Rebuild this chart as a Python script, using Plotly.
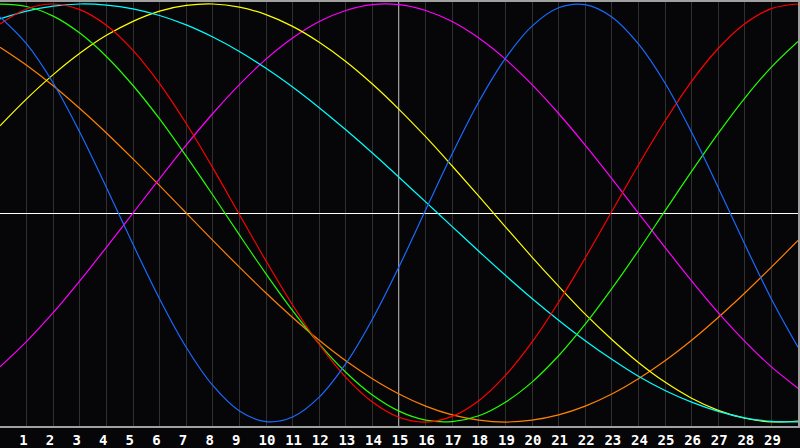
import plotly.graph_objects as go

# days shown along the bottom, curve values at each day (0..30)
days = list(range(0, 31))
day_labels = [str(d) for d in range(1, 30)]

physical = [0.938, 0.809, 0.622, 0.386, 0.122, -0.150, -0.411, -0.642, -0.825, -0.947,
            -0.998, -0.976, -0.881, -0.721, -0.508, -0.257, 0.014, 0.283, 0.532, 0.740,
            0.894, 0.982, 0.997, 0.938, 0.809, 0.622, 0.386, 0.122, -0.150, -0.411, -0.642]
emotional = [0.904, 0.976, 1.000, 0.973, 0.898, 0.778, 0.619, 0.428, 0.216, -0.007,
             -0.229, -0.440, -0.629, -0.786, -0.904, -0.977, -1.000, -0.973, -0.898, -0.777,
             -0.618, -0.427, -0.215, 0.007, 0.230, 0.440, 0.630, 0.787, 0.905, 0.978, 1.000]
intellectual = [0.999, 0.988, 0.942, 0.861, 0.749, 0.610, 0.450, 0.272, 0.086, -0.105,
                -0.291, -0.467, -0.626, -0.762, -0.871, -0.948, -0.991, -0.998, -0.970, -0.905,
                -0.809, -0.683, -0.532, -0.362, -0.180, 0.010, 0.199, 0.381, 0.550, 0.698, 0.821]
spiritual = [0.929, 0.966, 0.990, 1.000, 0.995, 0.977, 0.945, 0.900, 0.842, 0.773,
             0.692, 0.603, 0.504, 0.398, 0.287, 0.171, 0.053, -0.065, -0.183, -0.298,
             -0.409, -0.513, -0.611, -0.700, -0.781, -0.849, -0.905, -0.949, -0.980, -0.997, -0.999]
aesthetic = [0.417, 0.546, 0.662, 0.764, 0.850, 0.917, 0.966, 0.993, 1.000, 0.985,
             0.949, 0.893, 0.817, 0.725, 0.617, 0.496, 0.365, 0.225, 0.081, -0.066,
             -0.211, -0.350, -0.484, -0.605, -0.715, -0.809, -0.886, -0.944, -0.982, -0.999, -0.995]
intuitive = [-0.736, -0.614, -0.477, -0.325, -0.164, 0.000, 0.165, 0.325, 0.476, 0.614,
             0.736, 0.837, 0.916, 0.969, 0.997, 0.997, 0.969, 0.916, 0.837, 0.736,
             0.614, 0.476, 0.325, 0.165, 0.000, -0.164, -0.325, -0.477, -0.614, -0.736, -0.838]
awareness = [0.793, 0.707, 0.609, 0.500, 0.383, 0.259, 0.131, 0.000, -0.131, -0.259,
             -0.383, -0.500, -0.609, -0.707, -0.793, -0.866, -0.924, -0.966, -0.991, -1.000,
             -0.991, -0.966, -0.924, -0.866, -0.793, -0.707, -0.609, -0.500, -0.383, -0.259, -0.131]

series = [
    (awareness, "#ff8000"),
    (intuitive, "#ff00ff"),
    (aesthetic, "#ffff00"),
    (spiritual, "#00ffff"),
    (intellectual, "#22ff00"),
    (emotional, "#ff0000"),
    (physical, "#1a6aff"),
]

bg = "#060609"

fig = go.Figure()
for values, colour in series:
    fig.add_trace(go.Scatter(x=days, y=values, mode="lines",
                             line=dict(color=colour, width=1.2, shape="spline"),
                             hoverinfo="skip", showlegend=False))

# white marker line at day 15
fig.add_shape(type="line", x0=15, x1=15, y0=0, y1=1, yref="paper",
              line=dict(color="white", width=1.2), layer="below")

# single digit labels get a trailing space so they sit a bit left like the original
ticktext = [t + "\u00a0" if len(t) == 1 else t for t in day_labels]

fig.update_layout(
    width=800, height=448,
    margin=dict(l=0, r=0, t=0, b=20),
    paper_bgcolor=bg, plot_bgcolor=bg,
    showlegend=False,
    xaxis=dict(range=[0, 30], tickvals=list(range(1, 30)), ticktext=ticktext,
               showgrid=True, gridcolor="#303030", gridwidth=1,
               zeroline=False, ticks="", ticklabelshift=1,
               tickfont=dict(family="DejaVu Sans Mono", size=14, color="white", weight="bold"),
               showline=True, linecolor="#a0a0a0", linewidth=1.5, mirror=True,
               fixedrange=True),
    yaxis=dict(range=[-1.019, 1.0095], showgrid=False, showticklabels=False,
               zeroline=True, zerolinecolor="white", zerolinewidth=1.2,
               showline=True, linecolor="#a0a0a0", linewidth=1.5, mirror=True,
               fixedrange=True),
)

# drop the page's default body margin so the 800x448 figure fills the window
fig.write_html("out.html", config={"displayModeBar": False},
               post_script="document.body.style.margin='0';document.body.style.background='%s';" % bg)
